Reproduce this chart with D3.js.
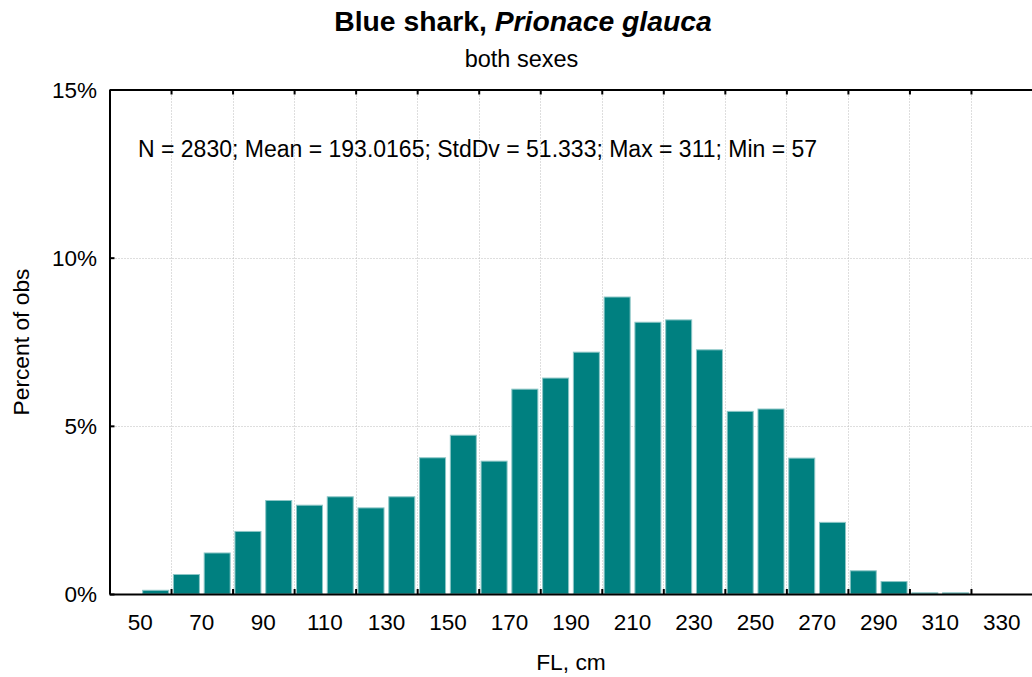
<!DOCTYPE html>
<html>
<head>
<meta charset="utf-8">
<script src="https://cdn.jsdelivr.net/npm/d3@7"></script>
<style>
  html, body { margin: 0; padding: 0; background: #fff; }
  svg { display: block; }
  text { font-family: Arial, "Liberation Sans", sans-serif; fill: #000; }
</style>
</head>
<body>
<svg id="chart" width="1032" height="677"></svg>
<script>
// Fork length bins (lower edge, cm), 10 cm wide
const binStarts = [40, 50, 60, 70, 80, 90, 100, 110, 120, 130, 140, 150, 160, 170, 180,
                   190, 200, 210, 220, 230, 240, 250, 260, 270, 280, 290, 300, 310, 320, 330];
// Percent of observations in each bin
const percentObs = [0, 0.11, 0.58, 1.22, 1.86, 2.78, 2.64, 2.89, 2.56, 2.89, 4.05, 4.72, 3.95, 6.09, 6.42,
                    7.19, 8.83, 8.08, 8.15, 7.26, 5.43, 5.50, 4.04, 2.13, 0.69, 0.37, 0.035, 0.035, 0, 0];
// Axis labels and tick positions
const xLabelValues = [50, 70, 90, 110, 130, 150, 170, 190, 210, 230, 250, 270, 290, 310, 330];
const xTickValues = [60, 80, 100, 120, 140, 160, 180, 200, 220, 240, 260, 280, 300, 320];
const yTickValues = [0, 5, 10, 15];
const titleMain = "Blue shark, ";
const titleSpecies = "Prionace glauca";
const subtitle = "both sexes";
const statsText = "N = 2830; Mean = 193.0165; StdDv = 51.333; Max = 311; Min = 57";
const xTitle = "FL, cm";
const yTitle = "Percent of obs";

const svg = d3.select("#chart");
const plot = { left: 109.5, top: 89.5, right: 1032.5, bottom: 594 };

const x = d3.scaleLinear().domain([40, 340]).range([plot.left, plot.right]);
const y = d3.scaleLinear().domain([0, 15]).range([plot.bottom, plot.top]);

// grid lines
const grid = svg.append("g").attr("stroke", "#bdbdbd").attr("stroke-width", 1)
  .attr("stroke-dasharray", "1,2").attr("fill", "none");
grid.selectAll("line.v").data(xTickValues).join("line").attr("class", "v")
  .attr("x1", d => Math.round(x(d)) + 0.5).attr("x2", d => Math.round(x(d)) + 0.5)
  .attr("y1", plot.top).attr("y2", plot.bottom);
grid.selectAll("line.h").data([5, 10]).join("line").attr("class", "h")
  .attr("y1", d => Math.round(y(d)) + 0.5).attr("y2", d => Math.round(y(d)) + 0.5)
  .attr("x1", plot.left).attr("x2", plot.right);

// bars
const barW = 26;
svg.append("g").selectAll("rect").data(binStarts.map((b, i) => ({ b, v: percentObs[i] })))
  .join("rect")
  .attr("x", d => x(d.b + 5) - barW / 2)
  .attr("width", barW)
  .attr("y", d => y(d.v))
  .attr("height", d => y(0) - y(d.v))
  .attr("fill", "#008080")
  .attr("stroke", d => d.v > 0 ? "#8cc6c6" : "none")
  .attr("stroke-width", 1);

// axes: inward ticks, labels drawn separately
const axisStyle = g => {
  g.selectAll("path.domain").attr("stroke", "#000").attr("stroke-width", 2);
  g.selectAll(".tick line").attr("stroke", "#000").attr("stroke-width", 2);
  g.selectAll(".tick text").remove();
};
svg.append("g").attr("transform", `translate(0,${plot.bottom})`)
  .call(d3.axisBottom(x).tickValues(xTickValues).tickSizeInner(-5).tickSizeOuter(0).tickFormat(""))
  .call(axisStyle);
svg.append("g").attr("transform", `translate(0,${plot.top})`)
  .call(d3.axisTop(x).tickValues(xTickValues).tickSizeInner(-5).tickSizeOuter(0).tickFormat(""))
  .call(axisStyle);
svg.append("g").attr("transform", `translate(${plot.left},0)`)
  .call(d3.axisLeft(y).tickValues(yTickValues).tickSizeInner(-5).tickSizeOuter(0).tickFormat(""))
  .call(axisStyle);

// tick labels
svg.append("g").selectAll("text").data(xLabelValues).join("text")
  .attr("x", d => x(d)).attr("y", 630)
  .attr("text-anchor", "middle").attr("font-size", 22.5)
  .text(d => d);
svg.append("g").selectAll("text").data(yTickValues).join("text")
  .attr("x", 97).attr("y", d => y(d) + 8)
  .attr("text-anchor", "end").attr("font-size", 22.5)
  .text(d => d + "%");

// titles
const t = svg.append("text").attr("x", 523).attr("y", 31)
  .attr("text-anchor", "middle").attr("font-size", 28.3).attr("font-weight", "bold");
t.append("tspan").text(titleMain);
t.append("tspan").attr("font-style", "italic").text(titleSpecies);
svg.append("text").attr("x", 521.5).attr("y", 67).attr("text-anchor", "middle")
  .attr("font-size", 23.5).text(subtitle);

svg.append("text").attr("x", 138).attr("y", 157).attr("font-size", 23).text(statsText);

svg.append("text").attr("x", 571).attr("y", 670).attr("text-anchor", "middle")
  .attr("font-size", 22.8).text(xTitle);
svg.append("text").attr("transform", "translate(29,342) rotate(-90)")
  .attr("text-anchor", "middle").attr("font-size", 22.8).text(yTitle);
</script>
</body>
</html>
